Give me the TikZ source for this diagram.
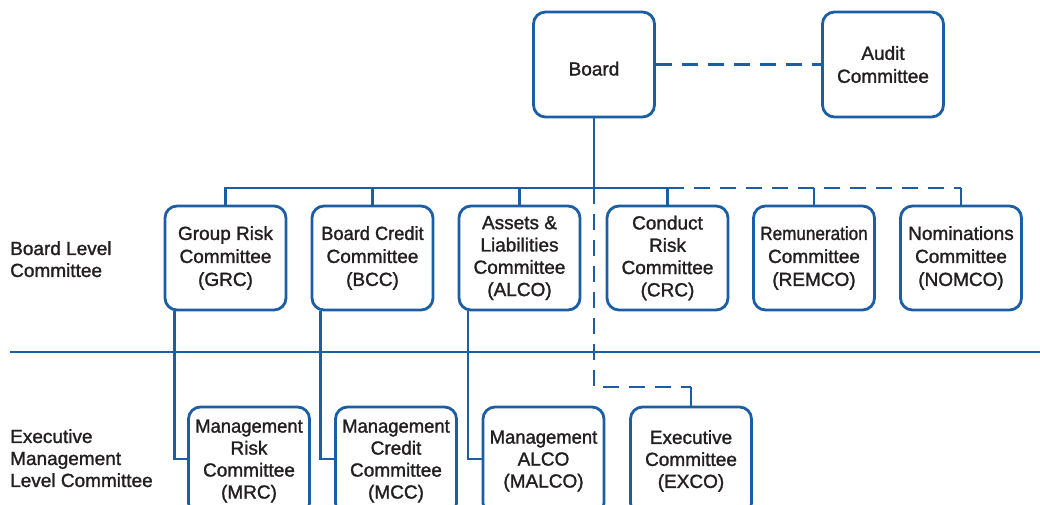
\documentclass[tikz,border=0pt]{standalone}
\usepackage{fontspec}
\setmainfont{Liberation Sans}[FakeBold=1.4]
\definecolor{orgblue}{RGB}{28,94,164}
\definecolor{txt}{RGB}{35,31,32}
\tikzset{
  box/.style={draw=orgblue, line width=2.8pt, rounded corners=12pt, fill=white,
    minimum width=121pt, minimum height=104pt, inner sep=0pt, align=center,
    text=txt, font=\fontsize{19}{23}\selectfont},
  lowbox/.style={box, minimum height=108pt, font=\fontsize{19}{22}\selectfont},
  conn/.style={draw=orgblue, line width=2.5pt},
  dconn/.style={conn, dash pattern=on 16pt off 10pt},
  lbl/.style={anchor=north west, inner sep=0pt, align=left, text=txt,
    font=\fontsize{19}{22}\selectfont}
}
\begin{document}
\begin{tikzpicture}[x=1pt,y=-1pt]
\useasboundingbox (0,0) rectangle (1040,504);
\clip (0,0) rectangle (1040,504);
% separator
\draw[orgblue, line width=1.6pt] (10,352) -- (1040,352);
% top
\node[box, minimum height=105pt] (board) at (594,64.5) {\raisebox{-11pt}[0pt][0pt]{Board}};
\node[box, minimum height=105pt] (audit) at (883,64.5) {Audit\\Committee};
% board level committees
\node[box] (grc) at (225.5,258) {Group Risk\\Committee\\(GRC)};
\node[box] (bcc) at (372.5,258) {\scalebox{0.96}[1]{Board Credit}\\Committee\\(BCC)};
\node[box, font=\fontsize{19}{22.3}\selectfont] (alco) at (519.5,258) {Assets \&\\Liabilities\\Committee\\(ALCO)};
\node[box, font=\fontsize{19}{22.3}\selectfont] (crc) at (667.5,258) {Conduct\\Risk\\Committee\\(CRC)};
\node[box] (remco) at (814,258) {\scalebox{0.9}[1]{Remuneration}\\Committee\\(REMCO)};
\node[box] (nomco) at (961,258) {Nominations\\Committee\\(NOMCO)};
% management level
\node[lowbox] (mrc) at (249,461) {\scalebox{0.97}[1]{Management}\\Risk\\Committee\\(MRC)};
\node[lowbox] (mcc) at (396,461) {\scalebox{0.97}[1]{Management}\\Credit\\Committee\\(MCC)};
\node[lowbox] (malco) at (543.5,461) {\scalebox{0.97}[1]{Management}\\ALCO\\(MALCO)};
\node[lowbox] (exco) at (691,461) {Executive\\Committee\\(EXCO)};
% side labels
\node[lbl] (l1) at (10,241) {Board Level\\Committee};
\node[lbl] (l2) at (10,429) {Executive\\Management\\Level Committee};
% connectors
\coordinate (bus) at (594,188);
\coordinate (exj) at (594,387);
\draw[dconn] (board.east) -- (audit.west);
\draw[conn] (board.south) -- (bus);
\draw[conn] (grc.north) |- (bus) -| (crc.north);
\draw[conn] (bcc.north) -- (bcc.north |- bus);
\draw[conn] (alco.north) -- (alco.north |- bus);
\draw[dconn] (crc.north |- bus) -- (nomco.north |- bus);
\draw[conn] (remco.north) -- (remco.north |- bus);
\draw[conn] (nomco.north) -- (nomco.north |- bus);
\draw[dconn] (bus) -- (exj) -- (exj -| exco.north);
\draw[conn] (exj -| exco.north) -- (exco.north);
\draw[conn] ([xshift=11pt]grc.south west) |- ([yshift=2pt]mrc.west);
\draw[conn] ([xshift=10pt]bcc.south west) |- ([yshift=2pt]mcc.west);
\draw[conn] ([xshift=10.5pt]alco.south west) |- ([yshift=2pt]malco.west);
\end{tikzpicture}
\end{document}
